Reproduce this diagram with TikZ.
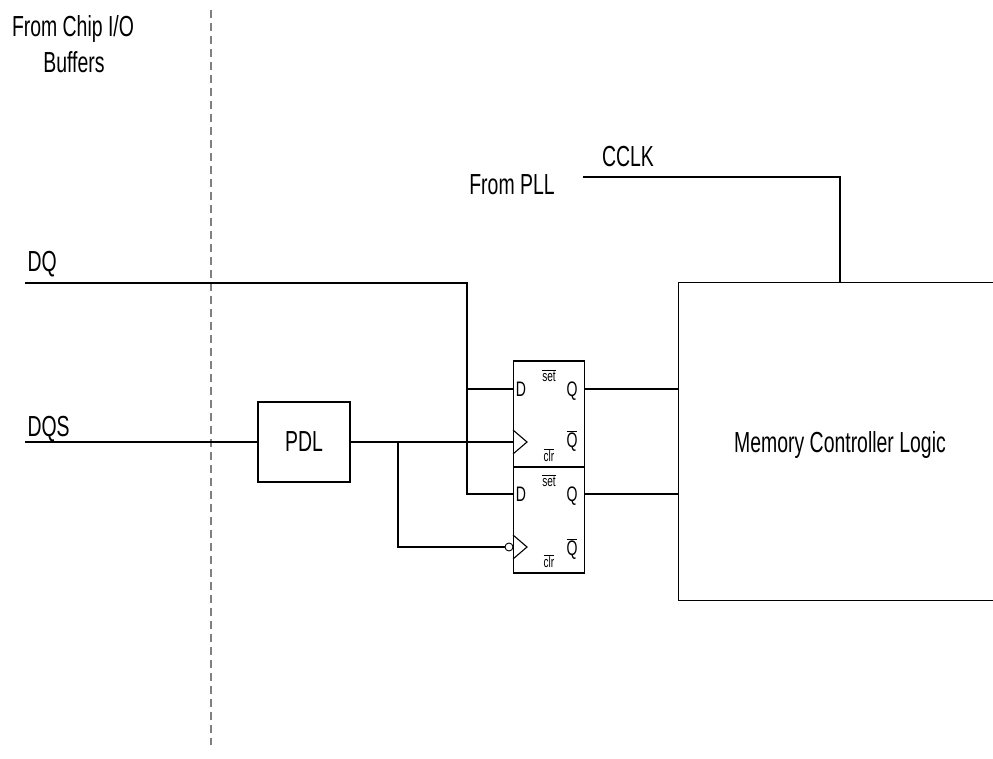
\documentclass[tikz,border=0pt]{standalone}
\usepackage{fontspec}
\setmainfont{Liberation Sans}[FakeStretch=0.67]
\begin{document}
\begin{tikzpicture}[x=1pt, y=-1pt, line width=1.1pt,
    lbl/.style={inner sep=0, font=\fontsize{29}{32}\selectfont, text height=21pt, text depth=0pt},
    pin/.style={inner sep=0, font=\fontsize{21}{24}\selectfont, text height=15pt, text depth=0pt},
    ctl/.style={inner sep=0, font=\fontsize{15}{17}\selectfont, text height=8pt, text depth=0pt},
    box/.style={draw, rectangle, inner sep=0},
    ffbox/.style={draw, rectangle, inner sep=0, minimum width=71pt, minimum height=106pt}]
  \useasboundingbox (0,0) rectangle (993,758);

  % chip boundary
  \draw[gray, dash pattern=on 8pt off 5pt] (211,10) -- (211,745);
  \node[lbl] (chipio) at (73,26) {From Chip I/O};
  \node[lbl] (buf) at (74,62) {Buffers};

  % blocks
  \node[box, minimum width=92pt, minimum height=80pt, font=\fontsize{29}{32}\selectfont] (pdl) at (304,442) {PDL};
  \node[ffbox] (ffa) at (549,414) {};
  \node[ffbox] (ffb) at (549,520) {};
  \begin{scope}
    \clip (0,0) rectangle (993,758);
    \node[box, anchor=north west, minimum width=340pt, minimum height=318pt] (mcl) at (678,282) {};
  \end{scope}
  \node[lbl] (mcltext) at (840,442) {Memory Controller Logic};

  % flip-flop pins
  \coordinate (ffa-d) at (513,389);
  \coordinate (ffa-clk) at (513,442);
  \coordinate (ffa-q) at (585,389);
  \coordinate (ffb-d) at (513,494);
  \coordinate (ffb-q) at (585,494);
  \node[draw, circle, inner sep=0, minimum size=8pt, line width=0.9pt] (bub) at (509,547) {};

  \draw (513,430) -- (527,442) -- (513,454);
  \draw (513,535) -- (527,547) -- (513,559);

  \node[pin] (da) at (521,389) {D};
  \node[pin] (qa) at (572,389) {Q};
  \node[pin] (qba) at (572,440) {$\overline{\hbox{Q}}$};
  \node[ctl] (seta) at (549,377) {$\overline{\hbox{set}}$};
  \node[ctl] (clra) at (549,457) {$\overline{\hbox{clr}}$};
  \node[pin] (db) at (521,494) {D};
  \node[pin] (qb) at (572,494) {Q};
  \node[pin] (qbb) at (572,548) {$\overline{\hbox{Q}}$};
  \node[ctl] (setb) at (549,482) {$\overline{\hbox{set}}$};
  \node[ctl] (clrb) at (549,563) {$\overline{\hbox{clr}}$};

  % inputs
  \coordinate (dq-in) at (25,283);
  \coordinate (dq-x) at (467,283);
  \coordinate (dqs-in) at (25,442);
  \coordinate (dqs-x) at (398,442);
  \node[lbl, anchor=west] (dqlbl) at (27,261) {DQ};
  \node[lbl, anchor=west] (dqslbl) at (27,426) {DQS};

  \draw (dq-in) -- (dq-x) |- (ffb-d);
  \draw (dq-x |- ffa-d) -- (ffa-d);
  \draw (dqs-in) -- (pdl.west);
  \draw (pdl.east) -- (ffa-clk);
  \draw (dqs-x) |- (bub.west);

  % outputs
  \draw (ffa-q) -- (mcl.west |- ffa-q);
  \draw (ffb-q) -- (mcl.west |- ffb-q);

  % clock from PLL
  \coordinate (pll-in) at (583,177);
  \coordinate (cclk-x) at (840,282);
  \node[lbl] (pll) at (512,184) {From PLL};
  \node[lbl] (cclk) at (628,156) {CCLK};
  \draw (pll-in) -| (cclk-x);
\end{tikzpicture}
\end{document}
